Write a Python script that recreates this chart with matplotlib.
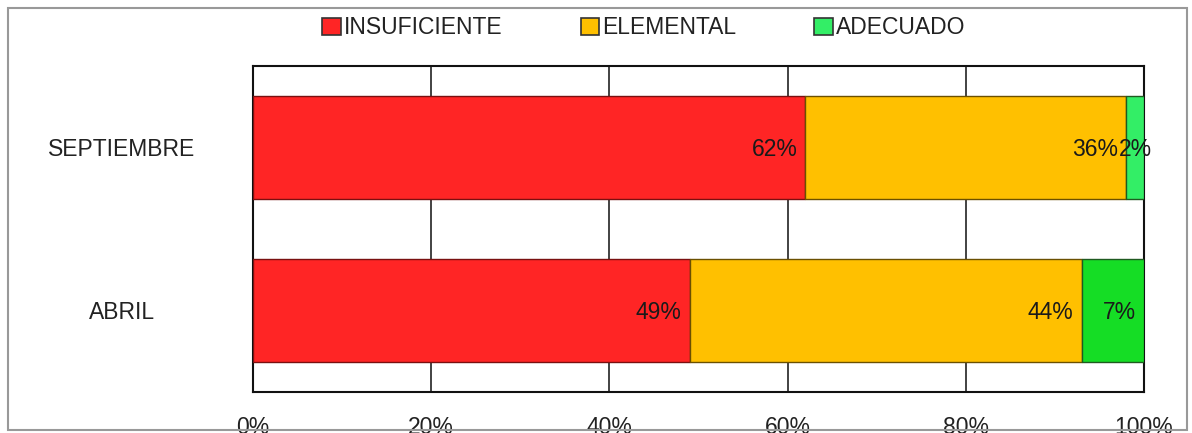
import numpy as np
import matplotlib.pyplot as plt
from matplotlib.patches import Rectangle, Patch

# Data
categorias = ["SEPTIEMBRE", "ABRIL"]
insuficiente = [62, 49]
elemental = [36, 44]
adecuado = [2, 7]

series = ["INSUFICIENTE", "ELEMENTAL", "ADECUADO"]
colores = ["#FF2525", "#FFC000", "#33EE66"]
bordes = ["#7A1010", "#6B5000", "#1F5A20"]
verde_barras = ["#33EE66", "#15DD25"]

plt.rcParams['font.family'] = ['Liberation Sans', 'DejaVu Sans']
fs = 16.5

fig = plt.figure(figsize=(11.92, 4.33), dpi=100)
ax = fig.add_axes([253/1192, 1 - 392/433, (1144 - 253)/1192, (392 - 66)/433])

y = np.arange(len(categorias))
valores = [insuficiente, elemental, adecuado]
izq = np.zeros(len(categorias))
for i, vals in enumerate(valores):
    vals = np.array(vals, dtype=float)
    cols = verde_barras if i == 2 else colores[i]
    ax.barh(y, vals, left=izq, height=0.63, color=cols, edgecolor=bordes[i],
            linewidth=1, label=series[i], zorder=3)
    for k in range(len(categorias)):
        fin = izq[k] + vals[k]
        txt = "%d%%" % vals[k]
        if vals[k] < 4:
            ax.text(izq[k] + vals[k] / 2, y[k] + 0.01, txt, ha='center', va='center',
                    fontsize=fs, color='#1a1a1a', zorder=5)
        else:
            ax.text(fin - 0.9, y[k] + 0.01, txt, ha='right', va='center',
                    fontsize=fs, color='#1a1a1a', zorder=5)
    izq += vals

ax.set_xlim(0, 100)
ax.set_ylim(1.5, -0.5)
ax.set_yticks(y)
ax.set_yticklabels([])
for k, c in enumerate(categorias):
    ax.text(122/1192, y[k] + 0.01, c, transform=ax.get_yaxis_transform(), ha='center',
            va='center', fontsize=fs, color='#222222')
# place category labels in figure x coordinates
for t in ax.texts[-len(categorias):]:
    t.set_transform(plt.matplotlib.transforms.blended_transform_factory(fig.transFigure, ax.transData))

ax.set_xticks(np.arange(0, 101, 20))
ax.set_xticklabels(["%d%%" % v for v in range(0, 101, 20)], fontsize=fs, color='#222222')
ax.tick_params(axis='x', length=0, pad=17)
ax.tick_params(axis='y', length=0)
ax.grid(axis='x', color='#222222', linewidth=1.2, zorder=0)
for s in ax.spines.values():
    s.set_color('#111111')
    s.set_linewidth(1.5)

hs = [Patch(facecolor=colores[i], edgecolor='#333333', linewidth=1.2) for i in range(3)]
fig.legend(hs, series, loc='center', bbox_to_anchor=(644/1192, 1 - 28/433), ncol=3,
           frameon=False, fontsize=fs, handlelength=0.8, handleheight=0.8,
           handletextpad=0.15, columnspacing=3.4, labelcolor='#222222')

fig.patches.append(Rectangle((8/1192, 1 - 430/433), (1187 - 8)/1192, (430 - 8)/433,
                             transform=fig.transFigure, fill=False,
                             edgecolor='#999999', linewidth=1.5))

fig.savefig("out.png", dpi=100)
